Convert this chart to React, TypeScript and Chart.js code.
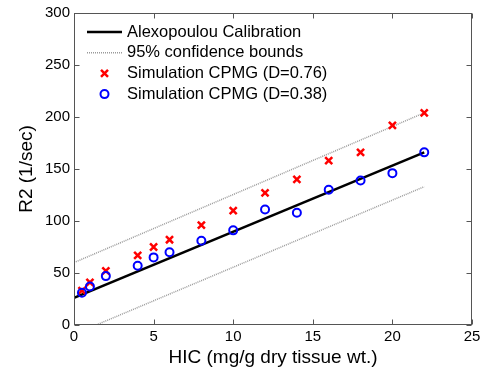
import { useEffect, useRef } from "react";
import { Chart, registerables } from "chart.js";

Chart.register(...registerables);

// ---- data ----
const hic = [0.5, 1, 2, 4, 5, 6, 8, 10, 12, 14, 16, 18, 20, 22];
const r2D076 = [33, 41, 52, 67, 75, 82, 96, 110, 127, 140, 158, 166, 192, 204];
const r2D038 = [31, 37, 47, 57, 65, 70, 81, 91, 111, 108, 130, 139, 146, 166];
const calibHic = [0, 22];
const calibR2 = [26, 166];
const upperHic = [0, 22];
const upperR2 = [60, 204];
const lowerHic = [0, 22];
const lowerR2 = [-9, 133];
const xTicks = [0, 5, 10, 15, 20, 25];
const yTicks = [0, 50, 100, 150, 200, 250, 300];
const labels = [
  "Alexopoulou Calibration",
  "95% confidence bounds",
  "Simulation CPMG (D=0.76)",
  "Simulation CPMG (D=0.38)",
];

const FONT = "'Liberation Sans', Arial, sans-serif";
const toPts = (xs: number[], ys: number[]) => xs.map((x, i) => ({ x, y: ys[i] }));

const boxPlugin = {
  id: "matlabBox",
  afterDatasetsDraw(chart: any) {
    const { ctx, chartArea, scales } = chart;
    const L = Math.round(chartArea.left) + 0.5;
    const R = Math.round(chartArea.right) - 0.5;
    const T = Math.round(chartArea.top) + 0.5;
    const B = Math.round(chartArea.bottom) - 0.5;
    ctx.save();
    ctx.strokeStyle = "#555";
    ctx.lineWidth = 1;
    ctx.strokeRect(L, T, R - L, B - T);
    const tl = 5;
    ctx.beginPath();
    xTicks.forEach((v) => {
      const px = Math.round(scales.x.getPixelForValue(v)) + 0.5;
      ctx.moveTo(px, B);
      ctx.lineTo(px, B - tl);
      ctx.moveTo(px, T);
      ctx.lineTo(px, T + tl);
    });
    yTicks.forEach((v) => {
      const py = Math.round(scales.y.getPixelForValue(v)) + 0.5;
      ctx.moveTo(L, py);
      ctx.lineTo(L + tl, py);
      ctx.moveTo(R, py);
      ctx.lineTo(R - tl, py);
    });
    ctx.stroke();
    ctx.restore();
  },
  afterDraw(chart: any) {
    const { ctx, chartArea } = chart;
    const left = chartArea.left;
    const top = chartArea.top;
    ctx.save();
    ctx.font = `16.5px ${FONT}`;
    ctx.textBaseline = "middle";
    ctx.textAlign = "left";
    const rows = [0, 1, 2, 3].map((i) => top + 19 + i * 20.7);
    const x0 = left + 13;
    const x1 = left + 48;
    const cx = (x0 + x1) / 2;
    // row 0: solid black line
    ctx.strokeStyle = "#000";
    ctx.lineWidth = 2.5;
    ctx.setLineDash([]);
    ctx.beginPath();
    ctx.moveTo(x0, rows[0]);
    ctx.lineTo(x1, rows[0]);
    ctx.stroke();
    // row 1: dotted gray
    ctx.strokeStyle = "#9a9a9a";
    ctx.lineWidth = 1.5;
    ctx.setLineDash([1, 1]);
    ctx.beginPath();
    ctx.moveTo(x0, rows[1]);
    ctx.lineTo(x1, rows[1]);
    ctx.stroke();
    ctx.setLineDash([]);
    // row 2: red cross
    ctx.strokeStyle = "#ff0000";
    ctx.lineWidth = 2.5;
    const d = 3.5;
    ctx.beginPath();
    ctx.moveTo(cx - d, rows[2] - d);
    ctx.lineTo(cx + d, rows[2] + d);
    ctx.moveTo(cx - d, rows[2] + d);
    ctx.lineTo(cx + d, rows[2] - d);
    ctx.stroke();
    // row 3: blue circle
    ctx.strokeStyle = "#0000ff";
    ctx.lineWidth = 2;
    ctx.beginPath();
    ctx.arc(cx, rows[3], 4, 0, Math.PI * 2);
    ctx.stroke();
    ctx.fillStyle = "#000";
    labels.forEach((t, i) => ctx.fillText(t, left + 53, rows[i]));
    ctx.restore();
  },
};

export default function App() {
  const ref = useRef<HTMLCanvasElement | null>(null);
  useEffect(() => {
    document.body.style.margin = "0";
    const canvas = ref.current;
    if (!canvas) return;
    const chart = new Chart(canvas, {
      type: "scatter",
      data: {
        datasets: [
          {
            label: labels[3],
            data: toPts(hic, r2D038),
            showLine: false,
            pointStyle: "circle",
            pointRadius: 4,
            pointHoverRadius: 4,
            borderWidth: 2,
            pointBorderWidth: 2,
            borderColor: "#0000ff",
            backgroundColor: "rgba(0,0,0,0)",
            order: 0,
          },
          {
            label: labels[2],
            data: toPts(hic, r2D076),
            showLine: false,
            pointStyle: "crossRot",
            pointRadius: 5,
            pointHoverRadius: 5,
            borderWidth: 2.5,
            pointBorderWidth: 2.5,
            borderColor: "#ff0000",
            backgroundColor: "#ff0000",
            order: 1,
          },
          {
            label: labels[0],
            data: toPts(calibHic, calibR2),
            showLine: true,
            pointRadius: 0,
            borderColor: "#000",
            borderWidth: 2.5,
            order: 2,
          },
          {
            label: labels[1],
            data: toPts(upperHic, upperR2),
            showLine: true,
            pointRadius: 0,
            borderColor: "#9a9a9a",
            borderWidth: 1.5,
            borderDash: [1, 1],
            order: 3,
          },
          {
            label: labels[1] + " (lower)",
            data: toPts(lowerHic, lowerR2),
            showLine: true,
            pointRadius: 0,
            borderColor: "#9a9a9a",
            borderWidth: 1.5,
            borderDash: [1, 1],
            order: 3,
          },
        ],
      },
      options: {
        animation: false,
        responsive: false,
        maintainAspectRatio: false,
        layout: { padding: { left: 0, right: 22, top: 13, bottom: 0 } },
        plugins: { legend: { display: false }, tooltip: { enabled: false } },
        scales: {
          x: {
            type: "linear",
            min: 0,
            max: 25,
            afterBuildTicks: (s: any) => {
              s.ticks = xTicks.map((v) => ({ value: v }));
            },
            afterFit: (s: any) => {
              s.height = 45;
            },
            grid: { display: false, drawTicks: false },
            border: { display: false },
            ticks: {
              padding: 3,
              color: "#000",
              font: { family: FONT, size: 15 },
              maxRotation: 0,
              autoSkip: false,
            },
            title: {
              display: true,
              text: "HIC (mg/g dry tissue wt.)",
              color: "#000",
              font: { family: FONT, size: 19 },
              padding: { top: 0, bottom: 1 },
            },
          },
          y: {
            type: "linear",
            min: 0,
            max: 300,
            afterBuildTicks: (s: any) => {
              s.ticks = yTicks.map((v) => ({ value: v }));
            },
            afterFit: (s: any) => {
              s.width = 74;
            },
            grid: { display: false, drawTicks: false },
            border: { display: false },
            ticks: {
              padding: 4,
              color: "#000",
              font: { family: FONT, size: 15 },
              autoSkip: false,
            },
            title: {
              display: true,
              text: "R2 (1/sec)",
              color: "#000",
              font: { family: FONT, size: 19 },
              padding: { top: 15, bottom: 0 },
            },
          },
        },
      },
      plugins: [boxPlugin],
    });
    return () => chart.destroy();
  }, []);
  return (
    <div style={{ position: "absolute", left: 0, top: 0, width: 494, height: 370 }}>
      <canvas ref={ref} width={494} height={370} style={{ display: "block" }} />
    </div>
  );
}
